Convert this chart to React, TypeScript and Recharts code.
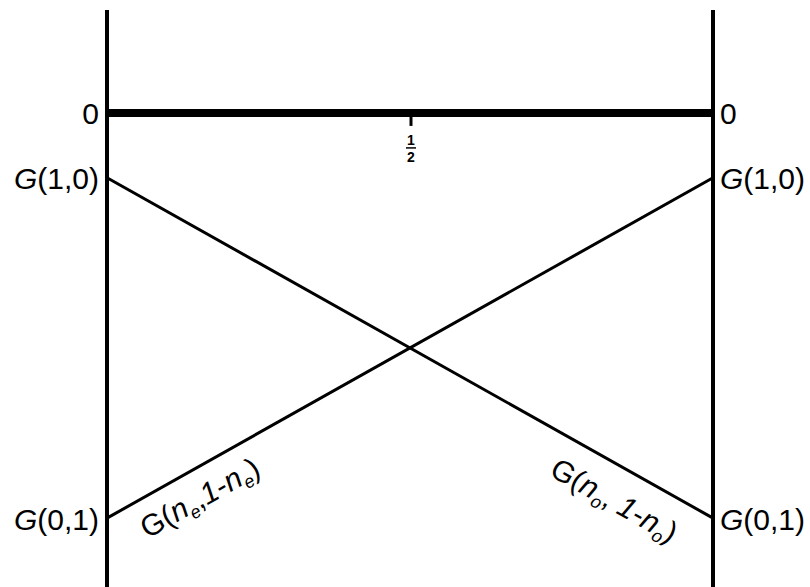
import React from 'react';
import { ComposedChart, Line, XAxis, YAxis, ReferenceLine, ReferenceDot } from 'recharts';

// Boundary positions (left wall, right wall)
const positions = [0, 1];
// Level values at each wall
const risingLevels = [-1, -0.16]; // G(n_e, 1-n_e)
const fallingLevels = [-0.16, -1]; // G(n_o, 1-n_o)
// Axis ticks on both walls
const levelTicks = [0, -0.16, -1];
const levelNames = ['0', 'G(1,0)', 'G(0,1)'];

const data = positions.map((x, i) => ({ x, rising: risingLevels[i], falling: fallingLevels[i] }));

const FONT = '"Liberation Sans", Arial, Helvetica, sans-serif';
const ANGLE = 29.4;

// point on a straight level line at position t
const along = (levels: number[], t: number) => levels[0] + (levels[1] - levels[0]) * t;

const LevelTick = ({ x, y, payload, textAnchor }: any) => {
  const name = levelNames[levelTicks.indexOf(payload.value)] ?? '';
  const italic = name.startsWith('G');
  return (
    <text x={x} y={y} dy="0.38em" textAnchor={textAnchor} fontFamily={FONT} fontSize={30} fill="#000">
      {italic ? (
        <>
          <tspan fontStyle="italic">G</tspan>
          <tspan>{name.slice(1)}</tspan>
        </>
      ) : (
        name
      )}
    </text>
  );
};

const RotatedLabel = ({ cx, cy, angle, offset, sub, gap }: any) => (
  <text
    transform={`translate(${cx},${cy}) rotate(${angle})`}
    x={0}
    y={offset}
    fontFamily={FONT}
    fontSize={30}
    fill="#000"
  >
    <tspan>G(</tspan>
    <tspan fontStyle="italic">n</tspan>
    <tspan fontStyle="italic" fontSize={18} dy={6}>{sub}</tspan>
    <tspan dy={-6}>,{gap}</tspan>
    <tspan fontStyle="italic">1</tspan>
    <tspan>-</tspan>
    <tspan fontStyle="italic">n</tspan>
    <tspan fontStyle="italic" fontSize={18} dy={6}>{sub}</tspan>
    <tspan dy={-6}>)</tspan>
  </text>
);

const HalfMark = ({ cx, cy }: any) => (
  <g>
    <line x1={cx} y1={cy} x2={cx} y2={cy + 9} stroke="#000" strokeWidth={3} />
    <text x={cx} y={cy + 28} textAnchor="middle" fontFamily={FONT} fontSize={14} fontWeight="bold" fill="#000">1</text>
    <line x1={cx - 5} y1={cy + 31} x2={cx + 5} y2={cy + 31} stroke="#000" strokeWidth={1.5} />
    <text x={cx} y={cy + 45} textAnchor="middle" fontFamily={FONT} fontSize={14} fontWeight="bold" fill="#000">2</text>
  </g>
);

export default function App() {
  const leftT = 0.036;
  const rightT = 0.763;
  return (
    <div style={{ position: 'absolute', left: 0, top: 0, width: 810, height: 587, background: '#fff' }}>
      <ComposedChart width={810} height={587} data={data} margin={{ top: 10, right: 0, bottom: 0, left: 0 }}>
        <XAxis type="number" dataKey="x" domain={[0, 1]} hide />
        <YAxis
          yAxisId="left"
          type="number"
          domain={[-1.17, 0.254]}
          ticks={levelTicks}
          width={107}
          axisLine={false}
          tickLine={false}
          tickSize={0}
          tickMargin={8}
          tick={<LevelTick />}
        />
        <YAxis
          yAxisId="right"
          orientation="right"
          type="number"
          domain={[-1.17, 0.254]}
          ticks={levelTicks}
          width={97}
          axisLine={false}
          tickLine={false}
          tickSize={0}
          tickMargin={7}
          tick={<LevelTick />}
        />
        <ReferenceLine yAxisId="left" x={0} stroke="#000" strokeWidth={4} />
        <ReferenceLine yAxisId="left" x={1} stroke="#000" strokeWidth={4} />
        <ReferenceLine yAxisId="left" y={0} stroke="#000" strokeWidth={8} />
        <Line yAxisId="left" dataKey="falling" stroke="#000" strokeWidth={3} dot={false} isAnimationActive={false} />
        <Line yAxisId="left" dataKey="rising" stroke="#000" strokeWidth={3} dot={false} isAnimationActive={false} />
        <Line yAxisId="right" dataKey="rising" stroke="none" dot={false} isAnimationActive={false} />
        <ReferenceDot yAxisId="left" x={0.5} y={0} r={0} shape={(p: any) => <HalfMark cx={p.cx + 1} cy={p.cy + 4} />} />
        <ReferenceDot
          yAxisId="left"
          x={leftT}
          y={along(risingLevels, leftT)}
          r={0}
          shape={(p: any) => <RotatedLabel cx={p.cx} cy={p.cy} angle={-ANGLE} offset={38} sub="e" gap="" />}
        />
        <ReferenceDot
          yAxisId="left"
          x={rightT}
          y={along(fallingLevels, rightT)}
          r={0}
          shape={(p: any) => <RotatedLabel cx={p.cx} cy={p.cy} angle={ANGLE} offset={43} sub="o" gap=" " />}
        />
      </ComposedChart>
    </div>
  );
}
